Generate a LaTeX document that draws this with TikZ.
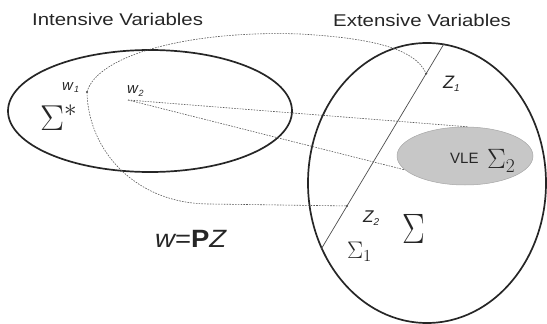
\RequirePackage{fix-cm}
\documentclass[tikz,border=0pt]{standalone}
\usepackage{fontspec}
\setmainfont{Liberation Sans}
\usetikzlibrary{shapes.geometric}
\begin{document}
\begin{tikzpicture}[x=1pt,y=-1pt,
  region/.style={draw=black!85, line width=1.7pt, ellipse, inner sep=0pt},
  dotline/.style={draw=black!65, line width=0.6pt, dash pattern=on 1.6pt off 1.2pt},
  sigline/.style={draw=black!70, line width=0.7pt},
  dotmark/.style={circle, fill=black!70, inner sep=0pt, minimum size=2.4pt},
  lab/.style={inner sep=0pt, text=black!85},
]
\useasboundingbox (0,0) rectangle (547,324);
% regions
\node[region, minimum width=284pt, minimum height=122pt] (intens) at (150,111) {};
\node[region, minimum width=238pt, minimum height=280pt] (extens) at (427,183) {};
\node[ellipse, fill=black!22, draw=black!35, line width=0.5pt, minimum width=136pt, minimum height=58pt, inner sep=0pt] (vle) at (465,156) {};
% Sigma_1 line
\draw[sigline] (extens.83) -- (extens.212)
  coordinate[pos=0.146] (z1) coordinate[pos=0.79] (z2);
% points
\coordinate (w1) at (87,92);
\coordinate (w2) at (128,100);
\coordinate (arcA) at (300,34);
\coordinate (arcB) at (210,204);
% dotted connectors
\draw[dotline] (w1) .. controls (97,55) and (190,30) .. (arcA)
  .. controls (370,38) and (415,48) .. (z1);
\draw[dotline] (w1) .. controls (88,150) and (135,204) .. (arcB) -- (z2);
\draw[dotline] (w2) -- (vle.85);
\draw[dotline] (w2) -- (vle.193);
\node[dotmark] (m1) at (w1) {};
\node[dotmark] (m2) at (z1) {};
\node[dotmark] (m3) at (z2) {};
% labels
\node[lab, anchor=base west, font=\fontsize{17}{17}\selectfont] (tin) at (32,25) {\scalebox{1.2}[1]{Intensive Variables}};
\node[lab, anchor=base west, font=\fontsize{17}{17}\selectfont] (tex) at (333,27) {\scalebox{1.2}[1]{Extensive Variables}};
\node[lab, anchor=base west] (sstar) at (40,130) {\fontsize{36}{36}\selectfont$\Sigma^*$};
\node[lab, anchor=base west] (sbig) at (402,243) {\fontsize{34}{34}\selectfont\scalebox{1}[1.25]{$\Sigma$}};
\node[lab, anchor=base west] (s1) at (347,258) {\fontsize{24}{24}\selectfont$\Sigma_1$};
\node[lab, anchor=base west] (s2) at (487,168) {\fontsize{28}{28}\selectfont$\Sigma_2$};
\node[lab, anchor=base west, font=\fontsize{15}{15}\selectfont] (tvle) at (450,163) {VLE};
\node[lab, anchor=base west] (lz1) at (443,88) {\fontsize{18}{18}\selectfont\itshape Z\raisebox{-3pt}{\fontsize{10}{10}\selectfont 1}};
\node[lab, anchor=base west] (lz2) at (363,222) {\fontsize{17}{17}\selectfont\itshape Z\raisebox{-3pt}{\fontsize{10}{10}\selectfont 2}};
\node[lab, anchor=base west] (lw1) at (62,90) {\fontsize{15}{15}\selectfont\itshape w\kern1pt\raisebox{-2pt}{\fontsize{9}{9}\selectfont 1}};
\node[lab, anchor=base west] (lw2) at (127,93) {\fontsize{15}{15}\selectfont\itshape w\kern0.5pt\raisebox{-3pt}{\fontsize{9}{9}\selectfont 2}};
\node[lab, anchor=base west] (eq) at (155,247) {\fontsize{25}{25}\selectfont\scalebox{1.1}[1]{\itshape w\upshape=\bfseries P\mdseries\itshape Z}};
\end{tikzpicture}
\end{document}
